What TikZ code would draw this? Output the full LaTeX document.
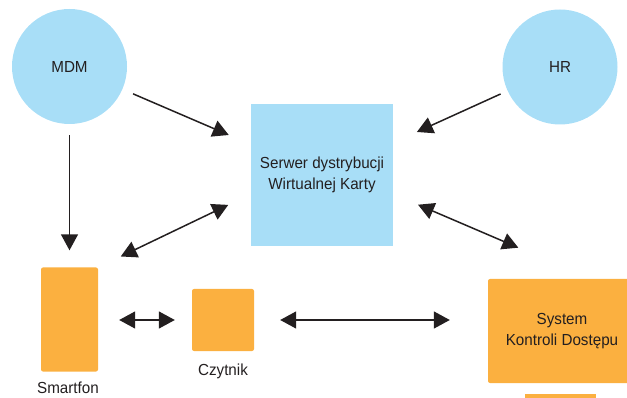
\documentclass[tikz,border=0pt]{standalone}
\usepackage{fontspec}
\setmainfont{Liberation Sans}[FakeStretch=0.95]
\usetikzlibrary{arrows.meta}

\definecolor{xanhnhat}{RGB}{168,222,247}
\definecolor{cam}{RGB}{251,176,64}
\definecolor{chu}{RGB}{35,31,32}

\begin{document}
\begin{tikzpicture}[x=1pt,y=-1pt,
		every node/.style={text=chu,font=\fontsize{16}{20.5}\selectfont},
		vong/.style={circle,fill=xanhnhat,minimum size=115pt},
		hop/.style={rectangle,fill=cam,rounded corners=2pt},
		muiten/.style={draw=chu,line width=1.5pt,-{Triangle[length=16pt,width=17pt]}},
		haimui/.style={muiten,{Triangle[length=16pt,width=17pt]}-{Triangle[length=16pt,width=17pt]}}]
		
		\useasboundingbox (0,0) rectangle (627,398);
		
		% Hai vòng tròn MDM và HR
		\node[vong] (MDM) at (69.5,66.5) {MDM};
		\node[vong] (HR) at (560,67) {HR};
		
		% Máy chủ ở giữa
		\node[rectangle,fill=xanhnhat,minimum width=142pt,minimum height=142pt,align=center]
			(Serwer) at (322,175) {Serwer dystrybucji\\Wirtualnej Karty};
		
		% Các thiết bị màu cam
		\node[hop,minimum width=57pt,minimum height=104pt] (Smartfon) at (69.5,319.5) {};
		\node[hop,minimum width=62pt,minimum height=62pt] (Czytnik) at (223,320) {};
		\node[hop,minimum width=148pt,minimum height=104pt,align=center]
			(System) at (562,331) {System\\Kontroli Dostępu};
		\node[rectangle,fill=cam,minimum width=71pt,minimum height=8pt,inner sep=0pt]
			(chan) at (560.5,398) {};
		
		% Nhãn dưới thiết bị
		\node (nhanS) at (68,388) {Smartfon};
		\node (nhanC) at (223,371) {Czytnik};
		
		% Các mũi tên
		\draw[muiten,shorten <=11.5pt,shorten >=24pt] (MDM) -- (Serwer);
		\draw[muiten,shorten <=7.5pt,shorten >=26pt] (HR) -- (Serwer);
		\draw[muiten,shorten <=11pt,shorten >=17pt] (MDM) -- (Smartfon);
		\draw[haimui,shorten <=25pt,shorten >=25pt] (Smartfon.north east) -- (Serwer.195);
		\draw[haimui,shorten <=27pt,shorten >=79pt] (Serwer.-15) -- (System.61);
		\draw[haimui,shorten <=21pt,shorten >=17pt] (Smartfon.east |- Czytnik) -- (Czytnik);
		\draw[haimui,shorten <=26pt,shorten >=38pt] (Czytnik) -- (Czytnik -| System.west);
		
\end{tikzpicture}
\end{document}
